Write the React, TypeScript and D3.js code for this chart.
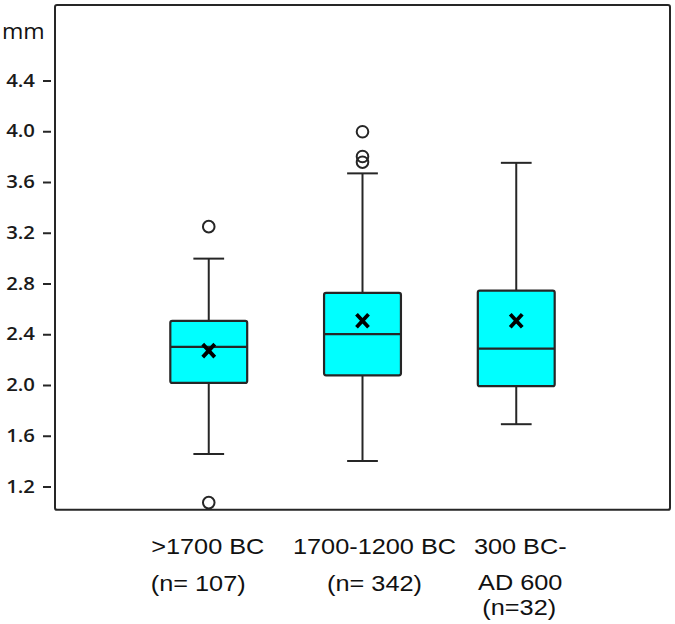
import React from "react";
import * as d3 from "d3";

const categories = ["g1", "g2", "g3"];
const labelLines = [
  [">1700 BC", "(n= 107)"],
  ["1700-1200 BC", "(n= 342)"],
  ["300 BC-", "AD 600", "(n=32)"],
];
const whiskerLow = [1.46, 1.405, 1.695];
const q1 = [2.02, 2.08, 1.995];
const median = [2.305, 2.405, 2.29];
const q3 = [2.51, 2.73, 2.748];
const whiskerHigh = [3.0, 3.672, 3.755];
const means = [2.275, 2.51, 2.51];
const outliers = [
  [3.252, 1.077],
  [4.0, 3.805, 3.76],
  [],
];
const yTicks = [1.2, 1.6, 2.0, 2.4, 2.8, 3.2, 3.6, 4.0, 4.4];

const W = 675;
const H = 624;
const LINE = "#262626";

export default function App() {
  const left = 55;
  const right = 670;
  const y = d3.scaleLinear().domain([1.2, 4.4]).range([487, 81]);
  const top = y(5.0);
  const bottom = y(1.02);
  const x = d3.scalePoint<string>().domain(categories).range([left, right]).padding(1);
  const step = x.step();
  const boxW = step * 0.5;
  const capW = step * 0.2;
  const fmt = d3.format(".1f");

  // label layout (anchor, dx per line, baselines)
  const labelLayout = [
    { anchor: ["middle", "start"], dx: [-1, -58], base: [554, 591] },
    { anchor: ["middle", "middle"], dx: [12, 12], base: [554, 591] },
    { anchor: ["middle", "middle", "middle"], dx: [4, 4, 3], base: [554, 590, 615] },
  ];

  return (
    <svg
      width={W}
      height={H}
      style={{ position: "absolute", left: 0, top: 0, background: "#fff" }}
    >
      <rect x={0} y={0} width={W} height={H} fill="#fff" />
      {/* frame */}
      <rect
        x={left}
        y={top}
        width={right - left}
        height={bottom - top}
        fill="none"
        stroke={LINE}
        strokeWidth={2}
        rx={2}
      />
      {/* y axis */}
      <text
        transform="translate(2,39) scale(1.1,1)"
        fontFamily="'Open Sans', sans-serif"
        fontSize={21}
        fill="#111"
      >
        mm
      </text>
      {yTicks.map((t) => (
        <g key={t}>
          <line x1={43} x2={51} y1={y(t)} y2={y(t)} stroke={LINE} strokeWidth={2} />
          <text
            transform={`translate(35,${y(t) + 5.5}) scale(1.1,1)`}
            textAnchor="end"
            fontFamily="'Open Sans', sans-serif"
            fontSize={18.5}
            fontWeight={600}
            fill="#1a1a1a"
          >
            {fmt(t)}
          </text>
        </g>
      ))}
      {/* boxes */}
      {categories.map((c, i) => {
        const cx = x(c)!;
        return (
          <g key={c}>
            <line x1={cx} x2={cx} y1={y(whiskerHigh[i])} y2={y(q3[i])} stroke={LINE} strokeWidth={2} />
            <line x1={cx} x2={cx} y1={y(q1[i])} y2={y(whiskerLow[i])} stroke={LINE} strokeWidth={2} />
            <line
              x1={cx - capW / 2}
              x2={cx + capW / 2}
              y1={y(whiskerHigh[i])}
              y2={y(whiskerHigh[i])}
              stroke={LINE}
              strokeWidth={2}
            />
            <line
              x1={cx - capW / 2}
              x2={cx + capW / 2}
              y1={y(whiskerLow[i])}
              y2={y(whiskerLow[i])}
              stroke={LINE}
              strokeWidth={2}
            />
            <rect
              x={cx - boxW / 2}
              y={y(q3[i])}
              width={boxW}
              height={y(q1[i]) - y(q3[i])}
              fill="#00FFFF"
              stroke={LINE}
              strokeWidth={2.2}
              rx={2}
            />
            <line
              x1={cx - boxW / 2}
              x2={cx + boxW / 2}
              y1={y(median[i])}
              y2={y(median[i])}
              stroke={LINE}
              strokeWidth={2.2}
            />
            <path
              d={`M${cx - 6},${y(means[i]) - 6.5}L${cx + 6},${y(means[i]) + 6.5}M${cx + 6},${y(means[i]) - 6.5}L${cx - 6},${y(means[i]) + 6.5}`}
              stroke="#000"
              strokeWidth={3.8}
              fill="none"
            />
            {outliers[i].map((o, j) => (
              <circle key={j} cx={cx} cy={y(o)} r={5.8} fill="#fff" fillOpacity={0} stroke={LINE} strokeWidth={2} />
            ))}
          </g>
        );
      })}
      {/* category labels */}
      {categories.map((c, i) => {
        const cx = x(c)!;
        const L = labelLayout[i];
        return labelLines[i].map((ln, j) => (
          <text
            key={c + j}
            transform={`translate(${cx + L.dx[j]},${L.base[j]}) scale(1.15,1)`}
            textAnchor={L.anchor[j] as any}
            fontFamily="'Liberation Sans', Arial, sans-serif"
            fontSize={22}
            fill="#111"
          >
            {ln}
          </text>
        ));
      })}
    </svg>
  );
}
